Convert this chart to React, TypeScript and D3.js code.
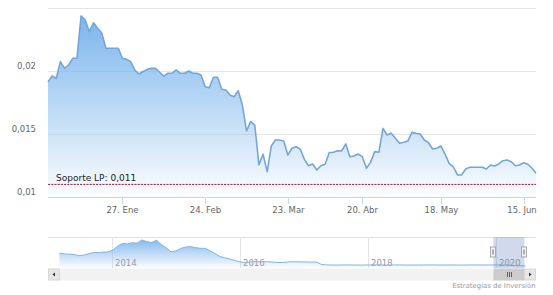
import React from "react";
import * as d3 from "d3";

// Daily closes (trading days, 31 Dic 2019 .. 18 Jun 2020)
const prices: number[] = [
  0.01913, 0.0196, 0.01942, 0.02074, 0.02021, 0.02048, 0.02101, 0.02101, 0.02437, 0.02405,
  0.02312, 0.02383, 0.02339, 0.02302, 0.0218, 0.0218, 0.0218, 0.0218, 0.02101, 0.02093,
  0.02074, 0.02008, 0.01976, 0.01996, 0.02013, 0.02021, 0.02021, 0.0199, 0.0196, 0.01982,
  0.01982, 0.02008, 0.01982, 0.01982, 0.02, 0.01982, 0.01982, 0.01968, 0.01875, 0.01867,
  0.0195, 0.0195, 0.01855, 0.01849, 0.0181, 0.01796, 0.01844, 0.0173, 0.01524, 0.01598,
  0.01571, 0.01254, 0.01339, 0.01201, 0.01405, 0.01452, 0.01452, 0.01444, 0.01333, 0.01387,
  0.01399, 0.01379, 0.01299, 0.01248, 0.01262, 0.01214, 0.01248, 0.0126, 0.01352, 0.01355,
  0.01367, 0.01365, 0.01421, 0.0132, 0.01325, 0.01341, 0.0132, 0.01228, 0.01275, 0.0136,
  0.01355, 0.01545, 0.01492, 0.01506, 0.01466, 0.01426, 0.01434, 0.01444, 0.01513, 0.01506,
  0.015, 0.01452, 0.01431, 0.01381, 0.01387, 0.01405, 0.01341, 0.01267, 0.0124, 0.01175,
  0.01175, 0.01222, 0.01236, 0.01236, 0.01236, 0.01236, 0.01222, 0.01254, 0.01246, 0.01262,
  0.01288, 0.01294, 0.0128, 0.01248, 0.01254, 0.01272, 0.0126, 0.0123, 0.01188,
];

const xTickIndex: number[] = [18, 38, 58, 76, 95, 115];
const xTickLabels: string[] = ["27. Ene", "24. Feb", "23. Mar", "20. Abr", "18. May", "15. Jun"];

const yTicks: number[] = [0.01, 0.015, 0.02, 0.025];
const yTickLabels: string[] = ["0,01", "0,015", "0,02", ""];

const supportValue = 0.011;
const supportLabel = "Soporte LP: 0,011";

// Navigator (long history), evenly spaced from navStart to navEnd (decimal years)
const navStart = 2013.17;
const navEnd = 2020.46;
const navPrices: number[] = [
  0.0759, 0.0728, 0.0717, 0.0702, 0.0635, 0.0661, 0.0733, 0.08, 0.0795, 0.0821,
  0.0826, 0.0924, 0.1125, 0.127, 0.1244, 0.1306, 0.128, 0.1445, 0.1362, 0.1311,
  0.1435, 0.1213, 0.1043, 0.0831, 0.0877, 0.1012, 0.1079, 0.1104, 0.1053, 0.1017,
  0.1017, 0.0893, 0.0754, 0.0604, 0.0532, 0.0464, 0.0403, 0.032, 0.0284, 0.0305,
  0.0325, 0.0325, 0.0325, 0.032, 0.0305, 0.0284, 0.0284, 0.031, 0.0325, 0.032,
  0.0315, 0.031, 0.0305, 0.0299, 0.0181, 0.016, 0.0155, 0.0152, 0.0155, 0.0158,
  0.0155, 0.0152, 0.015, 0.0155, 0.0158, 0.016, 0.0155, 0.0152, 0.0155, 0.0155,
  0.0158, 0.0155, 0.015, 0.0152, 0.0155, 0.0155, 0.0158, 0.016, 0.0155, 0.0152,
  0.0155, 0.0155, 0.015, 0.0152, 0.0155, 0.0158, 0.0155, 0.0155, 0.0152, 0.0155,
  0.0158, 0.0155, 0.0155, 0.0139, 0.0129, 0.0119, 0.0103,
];
const navYears: number[] = [2014, 2016, 2018, 2020];
const navSelection: number[] = [2019.96, 2020.445];
const credits = "Estrategias de Inversión";

const FONT = "'DejaVu Sans', Verdana, sans-serif";

export default function App() {
  const W = 553;
  const H = 295;
  const left = 48;
  const right = 536;

  const x = d3.scaleLinear().domain([0, prices.length - 1]).range([left, right]);
  const y = d3.scaleLinear().domain([0.01, 0.025]).range([197, 8]);

  const area = d3
    .area<number>()
    .x((_, i) => x(i))
    .y0(y(0.01))
    .y1((d) => y(d));
  const line = d3
    .line<number>()
    .x((_, i) => x(i))
    .y((d) => y(d));

  const nx = d3.scaleLinear().domain([2012.992, 2020.625]).range([left, right]);
  const ny = d3.scaleLinear().domain([0, 0.16]).range([268, 237]);
  const tOf = (k: number) => navStart + (k * (navEnd - navStart)) / (navPrices.length - 1);
  const navArea = d3
    .area<number>()
    .x((_, k) => nx(tOf(k)))
    .y0(268)
    .y1((d) => ny(d));
  const navLine = d3
    .line<number>()
    .x((_, k) => nx(tOf(k)))
    .y((d) => ny(d));

  const s0 = nx(navSelection[0]);
  const s1 = nx(navSelection[1]);
  const thumbEnd = Math.min(s1, right - 12);

  return (
    <div style={{ position: "fixed", left: 0, top: 0 }}>
      <svg width={W} height={H} viewBox={`0 0 ${W} ${H}`} style={{ display: "block", background: "#fff" }}>
        <defs>
          <linearGradient id="mainFill" gradientUnits="userSpaceOnUse" x1="0" y1="16" x2="0" y2="197">
            <stop offset="0" stopColor="#7cb5ec" stopOpacity={1} />
            <stop offset="1" stopColor="#7cb5ec" stopOpacity={0.03} />
          </linearGradient>
          <linearGradient id="navFill" gradientUnits="userSpaceOnUse" x1="0" y1="239" x2="0" y2="268">
            <stop offset="0" stopColor="#7cb5ec" stopOpacity={0.95} />
            <stop offset="1" stopColor="#7cb5ec" stopOpacity={0.03} />
          </linearGradient>
        </defs>

        {/* grid */}
        {yTicks.map((t) => (
          <line key={"g" + t} x1={left} x2={right} y1={Math.round(y(t)) + 0.5} y2={Math.round(y(t)) + 0.5} stroke="#e6e6e6" strokeWidth={1} />
        ))}

        {/* series */}
        <path d={area(prices) || ""} fill="url(#mainFill)" />
        <path d={line(prices) || ""} fill="none" stroke="#74a6dc" strokeWidth={1.6} strokeLinejoin="round" />

        {/* x axis */}
        <line x1={left} x2={right} y1={197.5} y2={197.5} stroke="#ccd6eb" strokeWidth={1} />
        {xTickIndex.map((idx, j) => {
          const tx = Math.round(x(idx)) + 0.5;
          const lx = Math.min(tx, right - 14);
          return (
            <g key={"xt" + j}>
              <line x1={tx} x2={tx} y1={197} y2={204} stroke="#ccd6eb" strokeWidth={1} />
              <text x={lx} y={212.5} textAnchor="middle" fontFamily={FONT} fontSize={8.5} fill="#666">
                {xTickLabels[j]}
              </text>
            </g>
          );
        })}

        {/* y labels */}
        {yTicks.map((t, j) =>
          yTickLabels[j] ? (
            <text key={"yl" + t} x={36} y={y(t) - 2.5} textAnchor="end" fontFamily={FONT} fontSize={8.5} fill="#666">
              {yTickLabels[j]}
            </text>
          ) : null
        )}

        {/* support line */}
        <line x1={left} x2={right} y1={y(supportValue)} y2={y(supportValue)} stroke="#a8203e" strokeWidth={1} strokeDasharray="2.2,1" />
        <text x={56} y={181} fontFamily={FONT} fontSize={9} fill="#222">
          {supportLabel}
        </text>

        {/* navigator */}
        <line x1={left} x2={right} y1={237.5} y2={237.5} stroke="#e0e0e0" strokeWidth={1} />
        {navYears.map((yr) => {
          const gx = Math.round(nx(yr)) + 0.5;
          return (
            <g key={"ny" + yr}>
              <line x1={gx} x2={gx} y1={237} y2={268} stroke="#e6e6e6" strokeWidth={1} />
              <text x={gx + 2.5} y={266} fontFamily={FONT} fontSize={8.5} fill="#999">
                {yr}
              </text>
            </g>
          );
        })}
        <path d={navArea(navPrices) || ""} fill="url(#navFill)" />
        <path d={navLine(navPrices) || ""} fill="none" stroke="#7cb5ec" strokeWidth={1} />
        <rect x={s0} y={237} width={s1 - s0} height={31} fill="rgba(102,133,194,0.3)" />
        {[s0, s1].map((hx, j) => (
          <g key={"h" + j}>
            <rect x={Math.round(hx) - 2.5} y={247} width={5} height={10} fill="#f2f2f2" stroke="#999" strokeWidth={0.8} />
            <line x1={Math.round(hx)} x2={Math.round(hx)} y1={249.5} y2={254.5} stroke="#333" strokeWidth={0.7} />
          </g>
        ))}

        {/* scrollbar */}
        <rect x={left} y={268.5} width={right - left} height={12} fill="#f2f2f2" />
        <rect x={s0} y={268.5} width={thumbEnd - s0} height={12} fill="#cccccc" />
        {[-2, 0, 2].map((o) => {
          const cx = Math.round((s0 + thumbEnd) / 2) + 0.5 + o;
          return <line key={"gr" + o} x1={cx} x2={cx} y1={272} y2={277} stroke="#333" strokeWidth={0.7} />;
        })}
        <rect x={left + 0.5} y={269} width={11} height={11} fill="#e6e6e6" stroke="#cccccc" strokeWidth={0.6} />
        <path d={`M${left + 4.5},274.5 L${left + 7},272.5 L${left + 7},276.5 Z`} fill="#333" />
        <rect x={right - 11.5} y={269} width={11} height={11} fill="#e6e6e6" stroke="#cccccc" strokeWidth={0.6} />
        <path d={`M${right - 4.5},274.5 L${right - 7},272.5 L${right - 7},276.5 Z`} fill="#333" />

        {/* credits */}
        <text x={535.5} y={288} textAnchor="end" fontFamily={FONT} fontSize={6.9} fill="#999">
          {credits}
        </text>
      </svg>
    </div>
  );
}
